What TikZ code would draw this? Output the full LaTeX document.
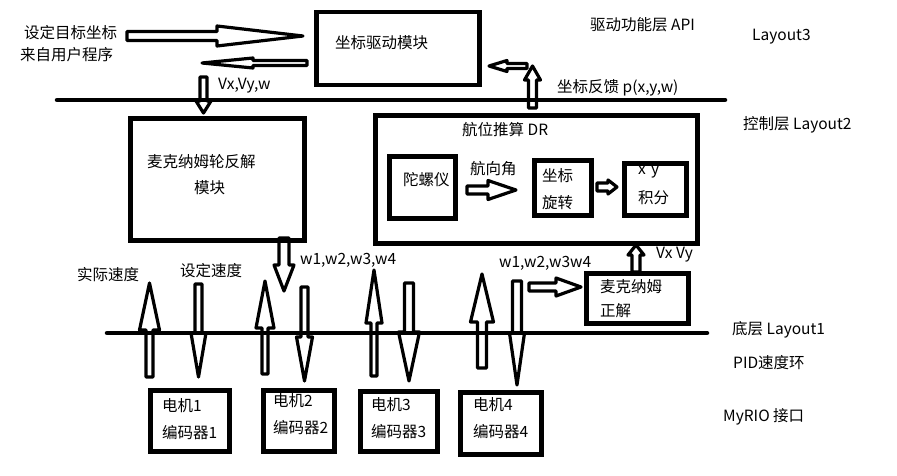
\documentclass[tikz,border=0pt]{standalone}
\usepackage{fontspec}
\setmainfont{Noto Sans CJK SC}
\usetikzlibrary{positioning}
\newcommand{\vblk}[6]{\draw[blk] (#1,#2) -- ({#1+#5},#3) -- ({#1+#6},#3) -- ({#1+#6},#4) -- ({#1-#6},#4) -- ({#1-#6},#3) -- ({#1-#5},#3) -- cycle;}
\newcommand{\hblk}[6]{\draw[blk] (#2,#1) -- (#3,{#1-#5}) -- (#3,{#1-#6}) -- (#4,{#1-#6}) -- (#4,{#1+#6}) -- (#3,{#1+#6}) -- (#3,{#1+#5}) -- cycle;}
\tikzset{
  box/.style={draw, line width=5pt, inner sep=0pt},
  blk/.style={draw, line width=3.2pt, line join=round},
  layer/.style={line width=4.5pt, line cap=round},
  txt/.style={inner sep=0pt, anchor=west, font=\fontsize{15.5}{17}\selectfont},
}
\begin{document}
\begin{tikzpicture}[x=1pt,y=-1pt]
\useasboundingbox (0,0) rectangle (897,476);
\fill[white] (0,0) rectangle (897,476);
% boxes
\node[box, line width=4.5pt, minimum width=163pt, minimum height=73pt, anchor=north west] (drive) at (314,10) {};
\node[box, minimum width=173.5pt, minimum height=121.5pt, anchor=north west] (inv) at (128,116.5) {};
\node[box, minimum width=322.5pt, minimum height=128pt, anchor=north west] (dr) at (372.5,113) {};
\node[box, minimum width=66pt, minimum height=61pt, anchor=north west] (gyro) at (386.5,154.5) {};
\node[box, minimum width=57pt, minimum height=54.5pt, anchor=north west] (rot) at (532,158) {};
\node[box, minimum width=62.5pt, minimum height=51.5pt, anchor=north west] (integ) at (621.5,161) {};
\node[box, minimum width=102pt, minimum height=50pt, anchor=north west] (fwd) at (584,271) {};
\node[box, minimum width=79pt, minimum height=60.5pt, anchor=north west] (m1) at (148,388) {};
\node[box, minimum width=71.5pt, minimum height=61.5pt, anchor=north west] (m2) at (260.5,387.5) {};
\node[box, minimum width=77.5pt, minimum height=59.5pt, anchor=north west] (m3) at (357.5,389) {};
\node[box, minimum width=81pt, minimum height=62pt, anchor=north west] (m4) at (458,390) {};
% layer lines
\coordinate (l2a) at (57,100); \coordinate (l2b) at (725,100);
\coordinate (l1a) at (107,333); \coordinate (l1b) at (707,333);
% arrows (top)
\hblk{36}{303}{217}{127}{10}{4.5}
\hblk{63}{202}{253}{307}{5}{2.5}
\vblk{203.5}{113}{101}{77}{7.5}{3.5}
\vblk{532.5}{66}{80}{108}{8}{4}
\hblk{66}{489}{507}{527}{5.5}{2.5}
% DR arrows
\hblk{190}{516}{488}{467}{9.5}{4}
\hblk{187}{617}{608}{597}{7}{4}
\vblk{636}{245}{255}{272}{8}{4}
\hblk{287}{581}{556}{529}{9}{4}
\vblk{284}{291}{265}{238}{10}{5}
% motor arrows
\vblk{149.5}{283}{330}{377}{10}{3.5}
\vblk{198.5}{377}{333}{284}{7.5}{3.5}
\vblk{265}{281}{328}{374}{9}{3}
\vblk{304.5}{381}{337}{287}{8}{3.5}
\vblk{374}{270}{323}{376}{8}{3}
\vblk{409}{381}{332}{283}{10.5}{4.5}
\vblk{482}{274}{322}{368}{11.5}{4.5}
\vblk{517}{385}{333}{281}{7.5}{4.5}
\draw[layer] (l2a) -- (l2b);
\draw[layer] (l1a) -- (l1b);
% texts
\node[txt] (t1) at (24,33) {设定目标坐标};
\node[txt] (t2) at (20,55) {来自用户程序};
\node[txt] (t3) at (335,43) {坐标驱动模块};
\node[txt] (t4) at (218,86) {Vx,Vy,w};
\node[txt] (t5) at (590,25) {驱动功能层 API};
\node[txt] (t6) at (752,37) {Layout3};
\node[txt] (t7) at (557,88) {坐标反馈 p(x,y,w)};
\node[txt] (t8) at (743,125) {控制层 Layout2};
\node[txt] (t9) at (462,130) {航位推算 DR};
\node[txt] (t10) at (403,180) {陀螺仪};
\node[txt] (t11) at (470,169) {航向角};
\node[txt] (t12) at (542,176) {坐标};
\node[txt] (t13) at (542,203) {旋转};
\node[txt] (t14) at (638,172) {x\,\,y};
\node[txt] (t15) at (638,198) {积分};
\node[txt] (t16) at (656,255) {Vx Vy};
\node[txt] (t17) at (600,287) {麦克纳姆};
\node[txt] (t18) at (600,311) {正解};
\node[txt] (t19) at (499,263) {w1,w2,w3w4};
\node[txt] (t20) at (300,260) {w1,w2,w3,w4};
\node[txt] (t21) at (147,162) {麦克纳姆轮反解};
\node[txt] (t22) at (194,188) {模块};
\node[txt] (t23) at (77,275) {实际速度};
\node[txt] (t24) at (180,271) {设定速度};
\node[txt] (t25) at (732,330) {底层 Layout1};
\node[txt] (t26) at (733,363) {PID速度环};
\node[txt] (t27) at (723,417) {MyRIO 接口};
\node[txt] (e1) at (162,406) {电机1};
\node[txt] (c1) at (162,433) {编码器1};
\node[txt] (e2) at (273,401) {电机2};
\node[txt] (c2) at (273,428) {编码器2};
\node[txt] (e3) at (371,405) {电机3};
\node[txt] (c3) at (371,432) {编码器3};
\node[txt] (e4) at (473,405) {电机4};
\node[txt] (c4) at (473,432) {编码器4};
\end{tikzpicture}
\end{document}
